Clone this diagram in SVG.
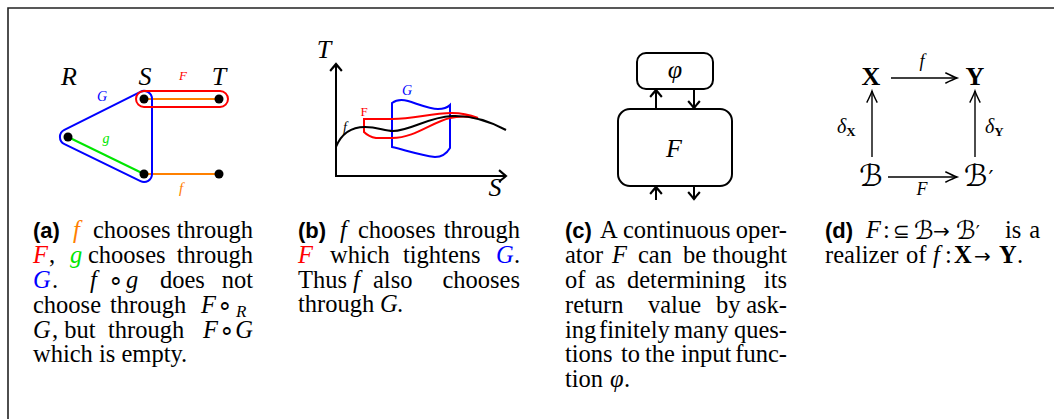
<svg xmlns="http://www.w3.org/2000/svg" width="1054" height="419" viewBox="0 0 1054 419">
<style>
.t{font-family:"Liberation Serif",serif;fill:#000}
.i{font-style:italic}
.bf{font-weight:bold}
.lab{font-family:"Liberation Sans",sans-serif;font-weight:bold;font-size:22px}
.ln{fill:none;stroke-width:2}
.k{stroke:#000}
.blue{stroke:#0000ff}
.red{stroke:#ff0000}
.grn{stroke:#00e600}
.org{stroke:#ff8000}
.node{fill:#000}
.ar{fill:none;stroke:#000;stroke-width:1.4}
.cap{font-family:"Liberation Serif",serif;font-size:24.5px;fill:#000}
.scr{font-family:"DejaVu Serif","DejaVu Sans",serif;fill:#000}
.sym{font-family:"DejaVu Sans",sans-serif;font-size:20px;fill:#000}
</style>
<defs>
<marker id="ah" markerUnits="userSpaceOnUse" markerWidth="14" markerHeight="14" viewBox="-8 -6 10 12" refX="0" refY="0" orient="auto">
<path d="M -6,-5 Q -1.5,-1.2 0,0 Q -1.5,1.2 -6,5" fill="none" stroke="#000" stroke-width="1.8"/>
</marker>
<marker id="ah2" markerUnits="userSpaceOnUse" markerWidth="16" markerHeight="14" viewBox="-11 -6 13 12" refX="0" refY="0" orient="auto">
<path d="M -10,-4.5 Q -3,-1 0,0 Q -3,1 -10,4.5" fill="none" stroke="#000" stroke-width="1.2"/>
</marker>
</defs>
<rect width="1054" height="419" fill="#fff"/>
<g id="frame">
<path d="M 8,419 L 8,8 L 1054,8" fill="none" stroke="#222" stroke-width="1.6"/>
</g>

<!-- Panel a -->
<g id="panel-a">
<g id="a-connectors">
<line class="ln org" x1="144" y1="99" x2="219" y2="99"/>
<line class="ln org" x1="144" y1="174" x2="219" y2="174"/>
<line class="ln grn" x1="68" y1="137" x2="144" y2="174"/>
<path class="ln blue" d="M 64.4,129.8 L 140.4,91.8 A 8 8 0 0 1 152,99 L 152,174 A 8 8 0 0 1 140.5,181.2 L 64.5,144.2 A 8 8 0 0 1 64.4,129.8 Z"/>
<rect class="ln red" x="136" y="91" width="92" height="16" rx="8"/>
</g>
<g id="a-nodes">
<circle class="node" cx="144" cy="99" r="4.5"/>
<circle class="node" cx="219" cy="99" r="4.5"/>
<circle class="node" cx="68" cy="137" r="4.5"/>
<circle class="node" cx="144" cy="174" r="4.5"/>
<circle class="node" cx="219" cy="174" r="4.5"/>
</g>
<g id="a-labels">
<text class="t i" x="69" y="85" font-size="26" text-anchor="middle">R</text>
<text class="t i" x="145" y="85" font-size="26" text-anchor="middle">S</text>
<text class="t i" x="219" y="85" font-size="26" text-anchor="middle">T</text>
<text class="t i" x="183" y="80" font-size="13" text-anchor="middle" style="fill:#ff0000">F</text>
<text class="t i" x="102" y="101" font-size="14" text-anchor="middle" style="fill:#0000ff">G</text>
<text class="t i" x="106" y="143" font-size="14" text-anchor="middle" style="fill:#00e600">g</text>
<text class="t i" x="181" y="193" font-size="15" text-anchor="middle" style="fill:#ff8000">f</text>
</g>
</g>

<!-- Panel b -->
<g id="panel-b">
<g id="b-axes">
<line class="ln k" x1="336" y1="176" x2="336" y2="64" marker-end="url(#ah)"/>
<line class="ln k" x1="335" y1="176" x2="506" y2="176" marker-end="url(#ah)"/>
</g>
<g id="b-G">
<path class="ln blue" d="M 392,147 L 392,103 C 396,100 401,99 408,101 C 418,104 430,109 438,109 C 444,109 448,107 450,105 L 450,148 C 447,153 442,157 435,157 C 420,155 405,150 392,147 Z"/>
</g>
<g id="b-F">
<path class="ln red" d="M 364,132 L 364,119 L 392,119 C 415,119 430,113 452,113 C 462,113 470,115 478,118 C 468,116 458,116 450,118 C 432,122 415,138 392,138 L 376,138 C 370,137 366,134 364,132 Z"/>
</g>
<g id="b-f">
<path class="ln k" d="M 336,147 C 342,132 352,127 365,127 C 378,127 384,131 393,131 C 410,131 428,117 452,116 C 476,115 495,124 506,130"/>
</g>
<g id="b-labels">
<text class="t i" x="324" y="58" font-size="26" text-anchor="middle">T</text>
<text class="t i" x="495" y="196" font-size="26" text-anchor="middle">S</text>
<text class="t i" x="345" y="132" font-size="14" text-anchor="middle">f</text>
<text class="t" x="364" y="116" font-size="13" text-anchor="middle" style="fill:#ff0000">F</text>
<text class="t i" x="407" y="95" font-size="14" text-anchor="middle" style="fill:#0000ff">G</text>
</g>
</g>

<!-- Panel c -->
<g id="panel-c">
<g id="c-phi">
<rect class="ln k" x="637" y="53" width="76" height="36" rx="9"/>
<text class="t i" x="675" y="78" font-size="26" text-anchor="middle">φ</text>
</g>
<g id="c-F">
<rect class="ln k" x="618" y="109" width="114" height="77" rx="12"/>
<text class="t i" x="674" y="157" font-size="26" text-anchor="middle">F</text>
</g>
<g id="c-connectors">
<line class="ln k" x1="656" y1="109" x2="656" y2="90" marker-end="url(#ah)"/>
<line class="ln k" x1="694" y1="89" x2="694" y2="108" marker-end="url(#ah)"/>
<line class="ln k" x1="656" y1="200" x2="656" y2="187" marker-end="url(#ah)"/>
<line class="ln k" x1="694" y1="186" x2="694" y2="199" marker-end="url(#ah)"/>
</g>
</g>

<!-- Panel d -->
<g id="panel-d">
<g id="d-X"><text class="t bf" x="871" y="85" font-size="26" text-anchor="middle">X</text></g>
<g id="d-Y"><text class="t bf" x="975" y="85" font-size="26" text-anchor="middle">Y</text></g>
<g id="d-B"><text class="scr" x="871" y="186" font-size="30" text-anchor="middle">ℬ</text></g>
<g id="d-B2"><text class="scr" x="964" y="186" font-size="30">ℬ<tspan font-size="22" dx="1">′</tspan></text></g>
<g id="d-connectors">
<line class="ar" x1="891" y1="78" x2="957" y2="78" marker-end="url(#ah2)"/>
<line class="ar" x1="888" y1="177" x2="957" y2="177" marker-end="url(#ah2)"/>
<line class="ar" x1="872" y1="157" x2="872" y2="91" marker-end="url(#ah2)"/>
<line class="ar" x1="975" y1="157" x2="975" y2="91" marker-end="url(#ah2)"/>
<text class="t i" x="922" y="67" font-size="18" text-anchor="middle">f</text>
<text class="t i" x="922" y="195" font-size="18" text-anchor="middle">F</text>
<text class="t" x="837" y="133" font-size="20"><tspan class="i">δ</tspan><tspan class="bf" font-size="13" dy="3">X</tspan></text>
<text class="t" x="985" y="133" font-size="20"><tspan class="i">δ</tspan><tspan class="bf" font-size="13" dy="3">Y</tspan></text>
</g>
</g>

<!-- Captions -->
<g id="caption-a">
<text class="cap" y="238"><tspan class="lab" x="33">(a)</tspan><tspan class="i" x="73" style="fill:#ff8000">f</tspan><tspan x="93">chooses</tspan></text>
<text class="cap" x="253" y="238" text-anchor="end">through</text>
<text class="cap" y="263"><tspan class="i" x="33" style="fill:#ff0000">F</tspan><tspan x="49">,</tspan><tspan class="i" x="70" style="fill:#00e600">g</tspan><tspan x="88">chooses</tspan></text>
<text class="cap" x="253" y="263" text-anchor="end">through</text>
<text class="cap" y="288"><tspan class="i" x="33" style="fill:#0000ff">G</tspan><tspan x="52">.</tspan><tspan class="i" x="90">f</tspan><tspan x="108">∘</tspan><tspan class="i" x="126">g</tspan><tspan x="160">does</tspan></text>
<text class="cap" x="253" y="288" text-anchor="end">not</text>
<text class="cap" y="313"><tspan x="33">choose</tspan><tspan x="110">through</tspan><tspan class="i" x="201">F</tspan><tspan x="217">∘</tspan><tspan class="i" x="236" font-size="17" dy="4">R</tspan></text>
<text class="cap" y="338"><tspan class="i" x="33">G</tspan><tspan x="52">, but</tspan><tspan x="108">through</tspan><tspan class="i" x="203">F</tspan><tspan x="219">∘</tspan></text>
<text class="cap i" x="253" y="338" text-anchor="end">G</text>
<text class="cap" x="33" y="362">which is empty.</text>
</g>

<g id="caption-b">
<text class="cap" y="238"><tspan class="lab" x="298">(b)</tspan><tspan class="i" x="340">f</tspan><tspan x="358">chooses</tspan></text>
<text class="cap" x="520" y="238" text-anchor="end">through</text>
<text class="cap" y="263"><tspan class="i" x="298" style="fill:#ff0000">F</tspan><tspan x="330">which</tspan><tspan x="403">tightens</tspan><tspan class="i" x="496" style="fill:#0000ff">G</tspan><tspan x="514">.</tspan></text>
<text class="cap" y="288"><tspan x="298">Thus</tspan><tspan class="i" x="353">f</tspan><tspan x="373">also</tspan></text>
<text class="cap" x="520" y="288" text-anchor="end">chooses</text>
<text class="cap" y="312"><tspan x="298">through</tspan><tspan class="i" x="380">G</tspan><tspan x="397">.</tspan></text>
</g>

<g id="caption-c">
<text class="cap" y="238"><tspan class="lab" x="565">(c)</tspan><tspan x="600">A</tspan><tspan x="623">continuous</tspan></text>
<text class="cap" x="787" y="238" text-anchor="end">oper-</text>
<text class="cap" y="263"><tspan x="565">ator</tspan><tspan class="i" x="612">F</tspan><tspan x="638">can</tspan><tspan x="683">be</tspan></text>
<text class="cap" x="787" y="263" text-anchor="end">thought</text>
<text class="cap" y="288"><tspan x="565">of</tspan><tspan x="595">as</tspan><tspan x="627">determining</tspan></text>
<text class="cap" x="787" y="288" text-anchor="end">its</text>
<text class="cap" y="313"><tspan x="565">return</tspan><tspan x="648">value</tspan><tspan x="716">by</tspan></text>
<text class="cap" x="787" y="313" text-anchor="end">ask-</text>
<text class="cap" y="338"><tspan x="565">ing</tspan><tspan x="599">finitely</tspan><tspan x="674">many</tspan></text>
<text class="cap" x="787" y="338" text-anchor="end">ques-</text>
<text class="cap" y="362"><tspan x="565">tions</tspan><tspan x="621">to</tspan><tspan x="645">the</tspan><tspan x="681">input</tspan></text>
<text class="cap" x="787" y="362" text-anchor="end">func-</text>
<text class="cap" y="387"><tspan x="565">tion</tspan><tspan class="i" x="610">φ</tspan><tspan x="624">.</tspan></text>
</g>

<g id="caption-d">
<text class="cap" y="238"><tspan class="lab" x="825">(d)</tspan><tspan class="i" x="866">F</tspan><tspan x="883">:</tspan></text>
<text class="sym" x="893" y="238">⊆</text>
<text class="scr" x="914" y="239" font-size="25">ℬ</text>
<text class="sym" x="933" y="238">→</text>
<text class="scr" x="956" y="239" font-size="25">ℬ<tspan font-size="18">′</tspan></text>
<text class="cap" x="1005" y="238">is</text>
<text class="cap" x="1040" y="238" text-anchor="end">a</text>
<text class="cap" y="263"><tspan x="825">realizer</tspan><tspan x="906">of</tspan><tspan class="i" x="933">f</tspan><tspan x="945">:</tspan><tspan class="bf" x="954">X</tspan></text>
<text class="sym" x="974" y="263">→</text>
<text class="cap" y="263"><tspan class="bf" x="999">Y</tspan><tspan x="1017">.</tspan></text>
</g>
</svg>
